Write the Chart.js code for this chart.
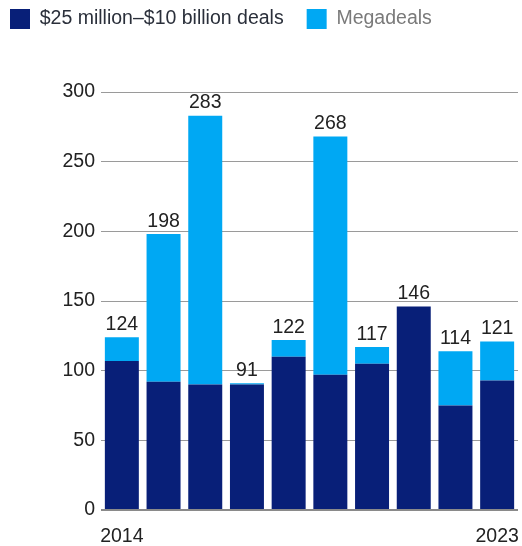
<!DOCTYPE html>
<html>
<head>
<meta charset="utf-8">
<script src="https://cdn.jsdelivr.net/npm/chart.js@4/dist/chart.umd.min.js"></script>
<style>
  html, body { margin: 0; padding: 0; background: #fff; }
  #wrap { width: 522px; height: 546px; }
</style>
</head>
<body>
<div id="wrap"><canvas id="chart" width="522" height="546"></canvas></div>
<script>
// Deal counts per year
const years = ['2014', '2015', '2016', '2017', '2018', '2019', '2020', '2021', '2022', '2023'];
const coreDeals = [107, 92, 90, 90, 110, 97, 105, 146, 75, 93];
const megaDeals = [17, 106, 193, 1, 12, 171, 12, 0, 39, 28];
const yTicks = [0, 50, 100, 150, 200, 250, 300];

const DARK = '#081f78';
const LIGHT = '#00a8f3';
const FONT = 'Liberation Sans, Arial, sans-serif';

// total label above each stacked bar, plus the zero line on top of the bars
const totalsPlugin = {
    id: 'totals',
    afterDatasetsDraw(chart) {
        const ctx = chart.ctx;
        const topMeta = chart.getDatasetMeta(1);
        const area = chart.chartArea;
        const y0 = chart.scales.y.getPixelForValue(0);
        ctx.save();
        ctx.strokeStyle = '#8a8a8a';
        ctx.lineWidth = 2;
        ctx.beginPath();
        ctx.moveTo(area.left, y0);
        ctx.lineTo(area.right, y0);
        ctx.stroke();

        ctx.font = '19.5px ' + FONT;
        ctx.fillStyle = '#222';
        ctx.textAlign = 'center';
        ctx.textBaseline = 'bottom';
        years.forEach((y, i) => {
            const total = coreDeals[i] + megaDeals[i];
            const bar = topMeta.data[i];
            ctx.fillText(String(total), bar.x, bar.y - 3);
        });
        ctx.restore();
    }
};

// fixed legend height so the plot starts lower
const legendGap = {
    id: 'legendGap',
    beforeInit(chart) {
        const fit = chart.legend.fit;
        chart.legend.fit = function () {
            fit.bind(chart.legend)();
            this.height = 106;
        };
    }
};

const ctx = document.getElementById('chart').getContext('2d');

new Chart(ctx, {
    type: 'bar',
    data: {
        labels: years,
        datasets: [
            {
                label: '$25 million\u2013$10 billion deals',
                data: coreDeals,
                backgroundColor: DARK,
                categoryPercentage: 1,
                barPercentage: 0.815
            },
            {
                label: 'Megadeals',
                data: megaDeals,
                backgroundColor: LIGHT,
                categoryPercentage: 1,
                barPercentage: 0.815
            }
        ]
    },
    options: {
        responsive: false,
        animation: false,
        layout: { padding: { left: -13, right: 4, top: -14, bottom: 0 } },
        plugins: {
            tooltip: { enabled: false },
            legend: {
                position: 'top',
                align: 'start',
                labels: {
                    boxWidth: 20,
                    boxHeight: 20,
                    padding: 23,
                    font: { size: 19.5, family: FONT },
                    generateLabels(chart) {
                        const items = Chart.defaults.plugins.legend.labels.generateLabels(chart);
                        items.forEach((it, i) => {
                            it.fontColor = i === 0 ? '#2a2f3a' : '#7a7a7a';
                            it.lineWidth = 0;
                        });
                        return items;
                    }
                }
            }
        },
        scales: {
            x: {
                stacked: true,
                afterFit(scale) {
                    scale.height = 36;
                    scale.paddingLeft = 0;
                    scale.paddingRight = 0;
                },
                grid: { display: false },
                border: { display: false },
                ticks: {
                    autoSkip: false,
                    maxRotation: 0,
                    padding: 7,
                    color: '#222',
                    font: { size: 19.5, family: FONT },
                    callback(v, i) {
                        return (i === 0 || i === years.length - 1) ? years[i] : '';
                    }
                }
            },
            y: {
                stacked: true,
                min: yTicks[0],
                max: yTicks[yTicks.length - 1],
                afterFit(scale) {
                    scale.width = 114;
                    scale.paddingTop = 0;
                    scale.paddingBottom = 0;
                },
                afterBuildTicks(scale) { scale.ticks = yTicks.map(v => ({ value: v })); },
                grid: { color: '#9a9a9a', lineWidth: 1, drawTicks: false },
                border: { display: false },
                ticks: {
                    padding: 6,
                    color: '#222',
                    font: { size: 19.5, family: FONT }
                }
            }
        }
    },
    plugins: [totalsPlugin, legendGap]
});
</script>
</body>
</html>
